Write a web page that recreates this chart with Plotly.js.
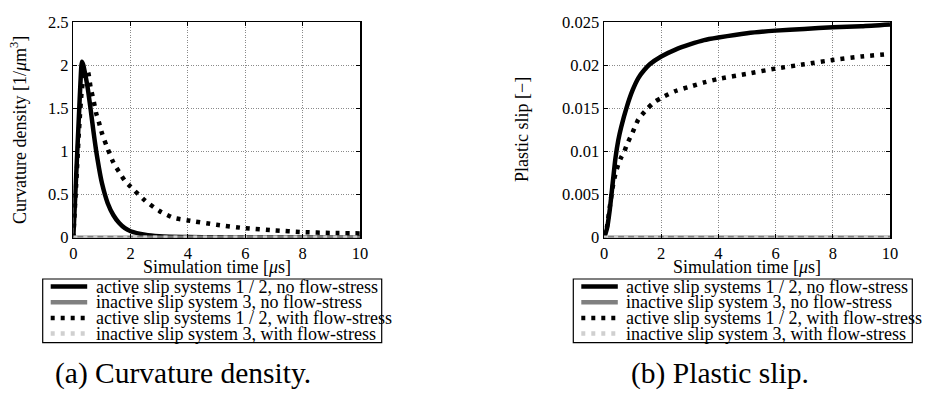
<!DOCTYPE html>
<html>
<head>
<meta charset="utf-8">
<script src="https://cdn.plot.ly/plotly-3.0.1.min.js"></script>
<style>
html,body{margin:0;padding:0;background:#fff;font-family:'Liberation Serif',serif;}
#chart{width:927px;height:395px;}
</style>
</head>
<body>
<div id="chart"></div>
<script>
// ---------- data ----------
const seriesNames = [
  "active slip systems 1 / 2, no flow-stress",
  "inactive slip system 3, no flow-stress",
  "active slip systems 1 / 2, with flow-stress",
  "inactive slip system 3, with flow-stress"
];
const captions = ["(a) Curvature density.", "(b) Plastic slip."];
const xTitle = "Simulation time [<i>μ</i>s]";
const yTitleLeft = "Curvature density [1/<i>μ</i>m<sup>3</sup>]";
const yTitleRight = "Plastic slip [−]";
const xTickVals = [0, 2, 4, 6, 8, 10];
const yTickValsLeft = [0, 0.5, 1, 1.5, 2, 2.5];
const yTickValsRight = [0, 0.005, 0.01, 0.015, 0.02, 0.025];

// (a) curvature density, active, no flow-stress
const tCurvNoFlow = [0, 0.05, 0.1, 0.15, 0.2, 0.25, 0.3, 0.35, 0.4, 0.5, 0.6, 0.7, 0.8, 0.9, 1.0, 1.2, 1.4, 1.6, 1.8, 2.0, 2.5, 3, 4, 5, 6, 8, 10];
const curvNoFlow  = [0, 0.36, 0.72, 1.08, 1.44, 1.8, 2.04, 2.0, 1.92, 1.74, 1.5, 1.24, 1.0, 0.8, 0.63, 0.4, 0.26, 0.17, 0.11, 0.075, 0.035, 0.018, 0.008, 0.004, 0.002, 0.001, 0.0005];
// (a) curvature density, active, with flow-stress
const tCurvFlow = [0, 0.1, 0.2, 0.3, 0.4, 0.5, 0.6, 0.7, 0.8, 0.9, 1.0, 1.2, 1.4, 1.6, 1.8, 2.0, 2.5, 3.0, 3.5, 4, 5, 6, 7, 8, 9, 10];
const curvFlow  = [0, 0.62, 1.25, 1.72, 1.9, 1.93, 1.75, 1.6, 1.44, 1.33, 1.21, 1.03, 0.87, 0.76, 0.66, 0.59, 0.43, 0.31, 0.23, 0.2, 0.15, 0.11, 0.085, 0.065, 0.055, 0.05];
// inactive slip system 3 (both cases, both panels)
const tInactive = [0, 2, 4, 6, 8, 10];
const curvInactiveNoFlow = [0, 0, 0, 0, 0, 0];
const curvInactiveFlow   = [0, 0, 0, 0, 0, 0];

// (b) plastic slip, active, no flow-stress
const tSlipNoFlow = [0, 0.1, 0.2, 0.3, 0.4, 0.5, 0.6, 0.8, 1.0, 1.2, 1.4, 1.6, 2.0, 2.5, 3.0, 3.5, 4, 5, 6, 7, 8, 9, 10];
const slipNoFlow  = [0, 0.001, 0.0032, 0.0062, 0.0092, 0.0113, 0.0128, 0.0152, 0.0171, 0.0185, 0.0194, 0.0201, 0.021, 0.0218, 0.0224, 0.0229, 0.0232, 0.0237, 0.024, 0.0242, 0.0244, 0.0245, 0.0247];
// (b) plastic slip, active, with flow-stress
const tSlipFlow = [0, 0.1, 0.2, 0.3, 0.4, 0.5, 0.6, 0.7, 0.8, 1.0, 1.2, 1.5, 1.75, 2.0, 2.5, 3, 3.5, 4, 5, 6, 7, 8, 9, 10];
const slipFlow  = [0, 0.0012, 0.0035, 0.0058, 0.0074, 0.0085, 0.0093, 0.0099, 0.0108, 0.0122, 0.0137, 0.0149, 0.0157, 0.0162, 0.017, 0.0175, 0.018, 0.0184, 0.019, 0.0196, 0.0201, 0.0206, 0.021, 0.0213];
const slipInactiveNoFlow = [0, 0, 0, 0, 0, 0];
const slipInactiveFlow   = [0, 0, 0, 0, 0, 0];

// ---------- styles ----------
const FONT = "Liberation Serif";
const styles = [
  {color: "#000000", width: 4.5, dash: "solid"},
  {color: "#808080", width: 4.5, dash: "solid"},
  {color: "#000000", width: 4.5, dash: "4px,6px"},
  {color: "#d0d0d0", width: 4.5, dash: "4px,6px"}
];

function mk(x, y, i, xa, ya) {
  return {
    x: x, y: y, type: "scatter", mode: "lines",
    name: seriesNames[i], showlegend: false, cliponaxis: false,
    xaxis: xa, yaxis: ya, hoverinfo: "skip",
    line: {color: styles[i].color, width: styles[i].width, dash: styles[i].dash, shape: "spline", smoothing: 0.6}
  };
}

const traces = [
  mk(tCurvNoFlow, curvNoFlow, 0, "x", "y"),
  mk(tInactive, curvInactiveNoFlow, 1, "x", "y"),
  mk(tCurvFlow, curvFlow, 2, "x", "y"),
  mk(tInactive, curvInactiveFlow, 3, "x", "y"),
  mk(tSlipNoFlow, slipNoFlow, 0, "x2", "y2"),
  mk(tInactive, slipInactiveNoFlow, 1, "x2", "y2"),
  mk(tSlipFlow, slipFlow, 2, "x2", "y2"),
  mk(tInactive, slipInactiveFlow, 3, "x2", "y2")
];

const W = 927, H = 395;
const px = v => v / W;
const py = v => 1 - v / H;

function axisCommon(extra) {
  return Object.assign({
    showgrid: true, gridcolor: "#8a8a8a", gridwidth: 1, griddash: "1px,1.5px",
    showline: true, linecolor: "#000", linewidth: 1.5, mirror: "allticks",
    ticks: "inside", ticklen: 4, tickwidth: 1, tickcolor: "#000",
    zeroline: false, automargin: false, tickmode: "array",
    tickfont: {family: FONT, size: 16.5, color: "#000"}
  }, extra);
}

const yDom = [py(237.7), py(22)];

// ---------- legend, axis titles, captions ----------
const shapes = [];
const annotations = [];
const rowY = [286.5, 302.3, 318, 333.5];
function buildLegend(boxLeft) {
  shapes.push({type: "rect", xref: "paper", yref: "paper",
    x0: px(boxLeft), x1: px(boxLeft + 339), y0: py(342.7), y1: py(279),
    line: {color: "#000", width: 1.2}, fillcolor: "rgba(0,0,0,0)"});
  seriesNames.forEach((nm, i) => {
    shapes.push({type: "line", xref: "paper", yref: "paper",
      x0: px(boxLeft + 8), x1: px(boxLeft + 44.5), y0: py(rowY[i]), y1: py(rowY[i]),
      line: {color: styles[i].color, width: styles[i].width, dash: styles[i].dash}});
    annotations.push({xref: "paper", yref: "paper", x: px(boxLeft + 51), y: py(rowY[i]),
      xanchor: "left", yanchor: "middle", showarrow: false, text: nm,
      font: {family: FONT, size: 18, color: "#000"}});
  });
}
buildLegend(42.7);
buildLegend(573.3);

function txt(x, y, text, size, angle) {
  annotations.push({xref: "paper", yref: "paper", x: px(x), y: py(y), xanchor: "center", yanchor: "middle",
    showarrow: false, text: text, textangle: angle || 0, font: {family: FONT, size: size, color: "#000"}});
}
txt(216.7, 266.5, xTitle, 18);
txt(747, 266.5, xTitle, 18);
txt(18, 130, yTitleLeft, 18, -90);
txt(522, 130, yTitleRight, 18, -90);
txt(183, 373, captions[0], 29.5);
txt(720, 373, captions[1], 29.5);

const layout = {
  width: W, height: H,
  margin: {l: 0, r: 0, t: 0, b: 0},
  paper_bgcolor: "#fff", plot_bgcolor: "#fff",
  showlegend: false,
  font: {family: FONT, color: "#000"},
  xaxis: axisCommon({domain: [px(73.3), px(360)], range: [0, 10], tickvals: xTickVals, anchor: "y"}),
  yaxis: axisCommon({domain: yDom, range: [0, 2.5], tickvals: yTickValsLeft, anchor: "x"}),
  xaxis2: axisCommon({domain: [px(604), px(890)], range: [0, 10], tickvals: xTickVals, anchor: "y2"}),
  yaxis2: axisCommon({domain: yDom, range: [0, 0.025], tickvals: yTickValsRight, anchor: "x2"}),
  shapes: shapes,
  annotations: annotations
};

Plotly.newPlot("chart", traces, layout, {displayModeBar: false, staticPlot: true});
</script>
</body>
</html>
